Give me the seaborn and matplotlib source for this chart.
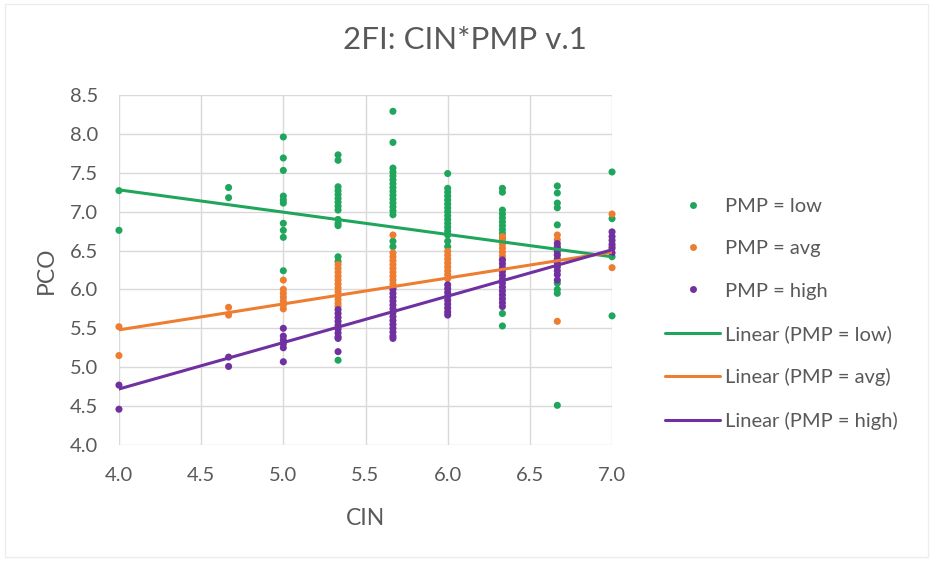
import numpy as np
import pandas as pd
import matplotlib
matplotlib.use("Agg")
import matplotlib.pyplot as plt
import seaborn as sns

# CIN levels (x) and PCO values read per level for each PMP group
cin_levels = [4.0, 4.667, 5.0, 5.333, 5.667, 6.0, 6.333, 6.667, 7.0]

low_pco = [
    [7.27, 6.76],
    [7.31, 7.18],
    [7.96, 7.69, 7.53, 7.20, 7.15, 7.11, 6.85, 6.76, 6.67, 6.24],
    [7.73, 7.66, 7.32, 7.27, 7.22, 7.17, 7.12, 7.07, 7.02, 6.90, 6.85, 6.82, 6.42, 6.36, 5.09],
    [8.29, 7.89, 7.56, 7.51, 7.46, 7.41, 7.36, 7.31, 7.26, 7.21, 7.16, 7.11, 7.06, 7.01, 6.96, 6.62, 6.55],
    [7.49, 7.30, 7.25, 7.20, 7.15, 7.10, 7.05, 7.00, 6.95, 6.90, 6.85, 6.80, 6.75, 6.70, 6.62, 6.55],
    [7.30, 7.25, 7.02, 6.97, 6.92, 6.87, 6.82, 6.77, 6.72, 6.66, 5.69, 5.53],
    [7.33, 7.24, 7.11, 7.05, 6.83, 6.08, 6.00, 5.95, 4.51],
    [7.51, 6.91, 6.42, 5.66],
]
avg_pco = [
    [5.52, 5.15],
    [5.77, 5.67],
    [6.12, 6.00, 5.95, 5.90, 5.85, 5.80, 5.75],
    [6.32, 6.27, 6.22, 6.17, 6.12, 6.07, 6.02, 5.97, 5.92, 5.87, 5.82, 5.78],
    [6.70, 6.47, 6.42, 6.37, 6.32, 6.27, 6.22, 6.17, 6.12, 6.07, 6.02],
    [6.49, 6.44, 6.39, 6.34, 6.29, 6.24, 6.19, 6.14],
    [6.68, 6.63, 6.58, 6.53, 6.48, 6.43, 6.38],
    [6.70, 6.64, 6.55, 6.45, 5.59],
    [6.97, 6.55, 6.28],
]
high_pco = [
    [4.77, 4.46],
    [5.13, 5.01],
    [5.50, 5.40, 5.35, 5.30, 5.25, 5.07],
    [5.74, 5.69, 5.64, 5.59, 5.54, 5.49, 5.44, 5.39, 5.37, 5.20],
    [6.00, 5.95, 5.90, 5.85, 5.80, 5.75, 5.70, 5.65, 5.60, 5.55, 5.50, 5.45, 5.40, 5.37],
    [6.06, 6.01, 5.96, 5.91, 5.86, 5.81, 5.76, 5.71, 5.67],
    [6.38, 6.33, 6.28, 6.23, 6.18, 6.13, 6.08, 6.03, 5.98, 5.93, 5.88, 5.83, 5.78],
    [6.59, 6.54, 6.49, 6.44, 6.39, 6.34, 6.29, 6.24, 6.19, 6.12],
    [6.74, 6.68, 6.63, 6.58, 6.53, 6.47],
]

# linear trendline ends
trend_x = [4.0, 7.0]
trend_low = [7.28, 6.42]
trend_avg = [5.48, 6.48]
trend_high = [4.72, 6.51]

groups = ["low", "avg", "high"]
colors = {"low": "#1FA65C", "avg": "#ED7D31", "high": "#7030A0"}

rows = []
for g, vals in zip(groups, [low_pco, avg_pco, high_pco]):
    for x, ys in zip(cin_levels, vals):
        for y in ys:
            rows.append((x, y, "PMP = " + g))
df = pd.DataFrame(rows, columns=["CIN", "PCO", "group"])

sns.set_style("white")
plt.rcParams["font.family"] = ["Lato", "DejaVu Sans"]
text_col = "#595959"

fig = plt.figure(figsize=(9.33, 5.61), dpi=100)
ax = fig.add_axes([0.1275, 0.2068, 0.5285, 0.6239])

pal = {"PMP = " + g: colors[g] for g in groups}
sns.scatterplot(data=df, x="CIN", y="PCO", hue="group", palette=pal,
                hue_order=["PMP = " + g for g in groups],
                s=26, linewidth=0, ax=ax, zorder=3, clip_on=False)

for g, ys in zip(groups, [trend_low, trend_avg, trend_high]):
    sns.lineplot(x=trend_x, y=ys, color=colors[g], lw=2.2, ax=ax,
                 label="Linear (PMP = %s)" % g, zorder=4)

ax.set_xlim(4.0, 7.0)
ax.set_ylim(4.0, 8.5)
ax.set_xticks(np.arange(4.0, 7.01, 0.5))
ax.set_yticks(np.arange(4.0, 8.51, 0.5))
ax.xaxis.set_major_formatter(matplotlib.ticker.FormatStrFormatter("%.1f"))
ax.yaxis.set_major_formatter(matplotlib.ticker.FormatStrFormatter("%.1f"))
ax.grid(True, color="#D9D9D9", lw=1)
for sp in ax.spines.values():
    sp.set_visible(False)
ax.tick_params(axis="both", length=0, labelsize=14.5, colors=text_col)
ax.tick_params(axis="x", pad=16)
ax.tick_params(axis="y", pad=15)

ax.set_xlabel("CIN", fontsize=16.5, color=text_col, labelpad=17)
ax.set_ylabel("PCO", fontsize=16.5, color=text_col, labelpad=9)
fig.text(0.498, 0.929, "2FI: CIN*PMP v.1", ha="center", va="center",
         fontsize=22.5, color=text_col)

handles, labels = ax.get_legend_handles_labels()
for h in handles[:3]:
    h.set_markersize(5)
ax.legend(handles, labels, loc="center left", bbox_to_anchor=(0.7128, 0.441),
          bbox_transform=fig.transFigure, frameon=False, fontsize=14.5,
          labelcolor=text_col, labelspacing=1.26, handlelength=2.75,
          handletextpad=0.25, borderpad=0, borderaxespad=0)

fig.patches.append(plt.Rectangle((0.005, 0.008), 0.99, 0.984, transform=fig.transFigure,
                                 fill=False, ec="#EDEDED", lw=1))
fig.savefig("out.png", dpi=100)
